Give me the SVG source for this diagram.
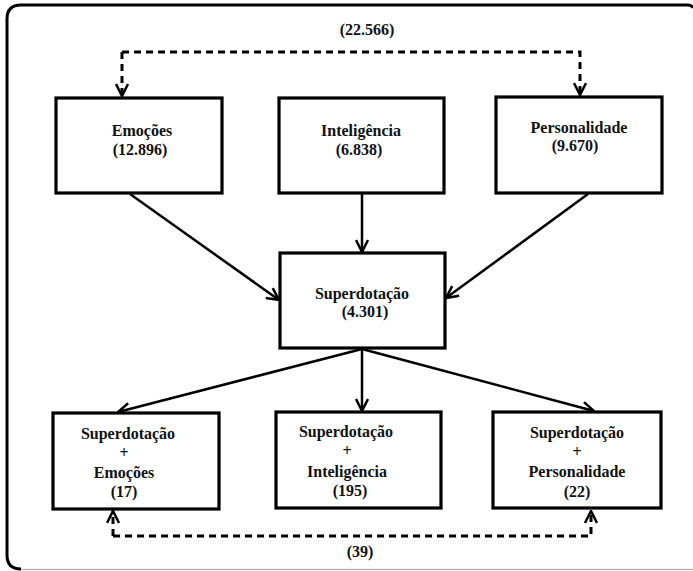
<svg xmlns="http://www.w3.org/2000/svg" width="693" height="571" viewBox="0 0 693 571">
<defs>
<style>
.box{fill:#fff;stroke:#000;stroke-width:3.2}
.t{font-family:"Liberation Serif","DejaVu Serif",serif;font-weight:bold;font-size:16px;fill:#111;text-anchor:middle}
.arr{fill:none;stroke:#000;stroke-width:2.5}
.dash{fill:none;stroke:#000;stroke-width:3;stroke-dasharray:7,5}
</style>
<marker id="ah" viewBox="0 0 14 14" refX="13" refY="7" markerWidth="14" markerHeight="14" markerUnits="userSpaceOnUse" orient="auto">
<path d="M1,1 L13,7 L1,13" fill="none" stroke="#000" stroke-width="2.5"/>
</marker>
</defs>
<rect width="693" height="571" fill="#fff"/>
<g id="frame">
<path d="M21,569 Q7,569 7,555 L7,19 Q7,5 21,5 L688,5 Q692,5 693,8" fill="none" stroke="#000" stroke-width="3"/>
<path d="M21,569.5 L693,569.5" stroke="#bbb" stroke-width="1.5"/>
</g>
<g id="connectors">
<path class="dash" d="M122,52 L580,52 L580,95" marker-end="url(#ah)"/>
<path class="dash" d="M122,52 L122,96" marker-end="url(#ah)"/>
<path class="dash" d="M113,536 L591,536 L591,511" marker-end="url(#ah)"/>
<path class="dash" d="M113,536 L113,511" marker-end="url(#ah)"/>
<line class="arr" x1="130" y1="194" x2="279" y2="300" marker-end="url(#ah)"/>
<line class="arr" x1="362" y1="194" x2="362" y2="252" marker-end="url(#ah)"/>
<line class="arr" x1="588" y1="194" x2="446" y2="298" marker-end="url(#ah)"/>
<line class="arr" x1="362" y1="349" x2="118" y2="412" marker-end="url(#ah)"/>
<line class="arr" x1="362" y1="349" x2="362" y2="411" marker-end="url(#ah)"/>
<line class="arr" x1="362" y1="349" x2="594" y2="411" marker-end="url(#ah)"/>
</g>
<g id="label-top"><text class="t" x="367" y="35">(22.566)</text></g>
<g id="label-bottom"><text class="t" x="360" y="557">(39)</text></g>
<g id="emocoes">
<rect class="box" x="56" y="98" width="166" height="95"/>
<text class="t" x="142" y="136">Emoções</text>
<text class="t" x="140" y="155">(12.896)</text>
</g>
<g id="inteligencia">
<rect class="box" x="279" y="98" width="165" height="95"/>
<text class="t" x="361" y="136">Inteligência</text>
<text class="t" x="359" y="155">(6.838)</text>
</g>
<g id="personalidade">
<rect class="box" x="496" y="97" width="166" height="96"/>
<text class="t" x="579" y="133">Personalidade</text>
<text class="t" x="575" y="151">(9.670)</text>
</g>
<g id="superdotacao">
<rect class="box" x="280" y="253" width="165" height="95"/>
<text class="t" x="362" y="299">Superdotação</text>
<text class="t" x="365" y="317">(4.301)</text>
</g>
<g id="sup-emocoes">
<rect class="box" x="53" y="413" width="166" height="96"/>
<text class="t" x="128" y="439">Superdotação</text>
<text class="t" x="124" y="458">+</text>
<text class="t" x="124" y="478">Emoções</text>
<text class="t" x="124" y="497">(17)</text>
</g>
<g id="sup-inteligencia">
<rect class="box" x="276" y="412" width="165" height="96"/>
<text class="t" x="346" y="437">Superdotação</text>
<text class="t" x="347" y="456">+</text>
<text class="t" x="347" y="477">Inteligência</text>
<text class="t" x="350" y="496">(195)</text>
</g>
<g id="sup-personalidade">
<rect class="box" x="493" y="412" width="168" height="96"/>
<text class="t" x="577" y="438">Superdotação</text>
<text class="t" x="577" y="457">+</text>
<text class="t" x="577" y="477">Personalidade</text>
<text class="t" x="577" y="497">(22)</text>
</g>
</svg>
